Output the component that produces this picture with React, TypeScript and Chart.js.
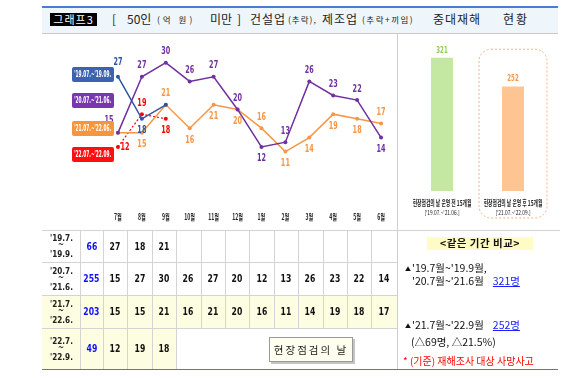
import React, { useEffect, useRef } from 'react';
import { Chart, registerables } from 'chart.js';

Chart.register(...registerables);

// ---------------- data ----------------
const months = ['7월', '8월', '9월', '10월', '11월', '12월', '1월', '2월', '3월', '4월', '5월', '6월'];
const seriesLabels = ["'19.07.~'19.09.", "'20.07.~'21.06.", "'21.07.~'22.06.", "'22.07.~'22.09."];
const s2019 = [27, 18, 21, null, null, null, null, null, null, null, null, null];
const s2020 = [15, 27, 30, 26, 27, 20, 12, 13, 26, 23, 22, 14];
const s2021 = [15, 15, 21, 16, 21, 20, 16, 11, 14, 19, 18, 17];
const s2022 = [12, 19, 18, null, null, null, null, null, null, null, null, null];
const rowLabels = [
  ["'19.7.", '~', "'19.9."],
  ["'20.7.", '~', "'21.6."],
  ["'21.7.", '~', "'22.6."],
  ["'22.7.", '~', "'22.9."],
];
const rowTotals = [66, 255, 203, 49];
const barCategories = [
  ['현장점검의 날 운영 전 15개월', "['19.07.~'21.06.]"],
  ['현장점검의 날 운영 후 15개월', "['21.07.~'22.09.]"],
];
const barValues = [321, 252];
const titleTag = '그래프3';
const buttonText = '현장점검의 날';
const compareTitle = '<같은 기간 비교>';
const compareLine1 = "'19.7월~'19.9월,";
const compareLine2 = "'20.7월~'21.6월";
const compareSum1 = '321명';
const compareLine3 = "'21.7월~'22.9월";
const compareSum2 = '252명';
const compareDiff = '(△69명, △21.5%)';
const footNote = '* (기준) 재해조사 대상 사망사고';

// ---------------- styles ----------------
const FN = "'Liberation Sans Narrow','DejaVu Sans Condensed','Noto Sans CJK KR',sans-serif";
const FK = "'Noto Sans CJK KR','Noto Sans',sans-serif";
const seriesColors = ['#2b559f', '#7030a0', '#f79646', '#ff0000'];
const legendColors = ['#3c63ad', '#7a35b0', '#f7953f', '#ff1010'];
const barColors = ['#c4e7a2', '#fec593'];
const barLabelColors = ['#8fcf4c', '#f79646'];
// label placement per point: a=above, A=higher above, b=below, l=upper-left, r=right, ''=none
const labelPos = [
  ['A', 'b', '', '', '', '', '', '', '', '', '', ''],
  ['l', 'a', 'a', 'a', 'a', 'a', 'b', 'a', 'a', 'a', 'a', 'b'],
  ['', 'b', 'a', 'b', 'b', 'b', 'a', 'b', 'b', 'b', 'b', 'a'],
  ['r', 'a', 'b', '', '', '', '', '', '', '', '', ''],
];

function condText(ctx: CanvasRenderingContext2D, text: string, x: number, y: number, font: string, color: string, sx: number) {
  ctx.save();
  ctx.font = font;
  ctx.fillStyle = color;
  ctx.textAlign = 'center';
  ctx.textBaseline = 'middle';
  ctx.translate(x, y);
  ctx.scale(sx, 1);
  ctx.fillText(text, 0, 0);
  ctx.restore();
}

const lineLabelPlugin = {
  id: 'lineLabels',
  afterDatasetsDraw(chart: any) {
    const ctx = chart.ctx;
    chart.data.datasets.forEach((ds: any, i: number) => {
      const si = ds.seriesIndex;
      const meta = chart.getDatasetMeta(i);
      meta.data.forEach((pt: any, j: number) => {
        const v = ds.data[j];
        const p = labelPos[si][j];
        if (v == null || !p) return;
        let x = pt.x;
        let y = pt.y;
        if (p === 'a') y -= 11;
        else if (p === 'A') y -= 14;
        else if (p === 'b') y += 12;
        else if (p === 'l') { x -= 9; y -= 12; }
        else if (p === 'r') { x += 7; y += 1; }
        condText(ctx, String(v), x, y, `bold 10px ${FN}`, seriesColors[si], 0.72);
      });
    });
    const xs = chart.scales.x;
    months.forEach((m, j) => {
      condText(ctx, m, xs.getPixelForValue(j), chart.chartArea.bottom + 14, `bold 8.5px ${FK}`, '#222', 0.6);
    });
  },
};

const barDecoPlugin = {
  id: 'barDeco',
  beforeDatasetsDraw(chart: any) {
    const ctx = chart.ctx;
    const ca = chart.chartArea;
    const cx = chart.scales.x.getPixelForValue(1);
    ctx.save();
    ctx.strokeStyle = '#f4b183';
    ctx.lineWidth = 1;
    ctx.setLineDash([2, 2]);
    ctx.beginPath();
    ctx.roundRect(cx - 34, ca.top + 3.5, 68, ca.bottom + 27 - ca.top - 3.5, 12);
    ctx.stroke();
    ctx.restore();
  },
  afterDatasetsDraw(chart: any) {
    const ctx = chart.ctx;
    const ca = chart.chartArea;
    const meta = chart.getDatasetMeta(0);
    meta.data.forEach((bar: any, j: number) => {
      condText(ctx, String(barValues[j]), bar.x, bar.y - 7, `bold 8px ${FN}`, barLabelColors[j], 0.75);
      const [l1, l2] = barCategories[j];
      condText(ctx, l1, bar.x, ca.bottom + 12, `bold 8px ${FK}`, '#222', 0.6);
      condText(ctx, l2, bar.x, ca.bottom + 22, `6px ${FK}`, '#222', 0.8);
    });
  },
};

function LineChart() {
  const ref = useRef<HTMLCanvasElement>(null);
  useEffect(() => {
    const mk = (data: any[], i: number, dash: number[] = []) => ({
      label: seriesLabels[i],
      seriesIndex: i,
      data,
      borderColor: seriesColors[i],
      backgroundColor: seriesColors[i],
      borderWidth: i === 3 ? 1.2 : 1.5,
      borderDash: dash,
      pointRadius: 2,
      pointBorderWidth: 0,
      spanGaps: false,
      tension: 0,
    });
    const chart = new Chart(ref.current!, {
      type: 'line',
      data: {
        labels: months,
        datasets: [mk(s2019, 0), mk(s2020, 1), mk(s2021, 2), mk(s2022, 3, [2, 2])] as any,
      },
      options: {
        animation: false,
        responsive: false,
        maintainAspectRatio: false,
        layout: { padding: { left: 64, right: 3, top: 11, bottom: 0 } },
        plugins: { legend: { display: false }, tooltip: { enabled: false } },
        scales: {
          x: {
            offset: true,
            grid: { display: false, drawTicks: false },
            border: { display: false },
            ticks: { display: false },
            afterFit: (a: any) => { a.height = 27; },
          },
          y: { display: false, min: 0, max: 34 },
        },
      } as any,
      plugins: [lineLabelPlugin],
    });
    return () => chart.destroy();
  }, []);
  return <canvas ref={ref} width={355} height={197} style={{ position: 'absolute', left: 42, top: 33, width: 355, height: 197 }} />;
}

function BarChart() {
  const ref = useRef<HTMLCanvasElement>(null);
  useEffect(() => {
    const chart = new Chart(ref.current!, {
      type: 'bar',
      data: {
        labels: barCategories.map((c) => c[0]),
        datasets: [{ data: barValues, backgroundColor: barColors, categoryPercentage: 1, barPercentage: 0.31 }],
      },
      options: {
        animation: false,
        responsive: false,
        maintainAspectRatio: false,
        layout: { padding: { left: 9.5, right: 9.5, top: 12.7, bottom: 0 } },
        plugins: { legend: { display: false }, tooltip: { enabled: false } },
        scales: {
          x: {
            grid: { display: false, drawTicks: false },
            border: { display: false },
            ticks: { display: false },
            afterFit: (a: any) => { a.height = 39; },
          },
          y: { display: false, min: 0, max: 350 },
        },
      } as any,
      plugins: [barDecoPlugin],
    });
    return () => chart.destroy();
  }, []);
  return <canvas ref={ref} width={161} height={197} style={{ position: 'absolute', left: 397, top: 33, width: 161, height: 197 }} />;
}

const abs = (l: number, t: number, w: number, h: number, extra: any = {}) => ({ position: 'absolute' as const, left: l, top: t, width: w, height: h, ...extra });

function Cond({ children, sx }: { children: any; sx: number }) {
  return <span style={{ display: 'inline-block', transform: `scaleX(${sx})`, transformOrigin: 'center', whiteSpace: 'nowrap', flexShrink: 0 }}>{children}</span>;
}

const COL_W = 24.4;
const colX = (k: number) => 103 + k * COL_W;
const rowTops = [230, 262, 295, 328, 369];
const GRID = '#d4d4d4';
const centerFlex = { display: 'flex', alignItems: 'center', justifyContent: 'center' };

function Table() {
  const rows = [s2019, s2020, s2021, s2022];
  const els: any[] = [];
  rows.forEach((vals, r) => {
    const top = rowTops[r];
    const h = rowTops[r + 1] - top;
    const partial = r === 3;
    const n = partial ? vals.filter((v) => v != null).length : 12;
    if (r === 2) els.push(<div key={`bg${r}`} style={abs(42, top, 355, h, { background: '#fdfde2' })} />);
    if (r === 3) els.push(<div key={`bg${r}`} style={abs(42, top, colX(n) - 42, h, { background: '#fdfde2' })} />);
    const vx = [80, 103];
    for (let k = 1; k <= (partial ? n : 11); k++) vx.push(colX(k));
    vx.forEach((x, i) => els.push(<div key={`v${r}-${i}`} style={abs(Math.round(x), top, 1, h, { background: GRID })} />));
    els.push(
      <div key={`l${r}`} style={abs(42, top, 38, h, { display: 'flex', flexDirection: 'column', alignItems: 'center', justifyContent: 'center', fontFamily: FN, fontWeight: 'bold', fontSize: 9.5, color: '#222' })}>
        <div style={{ height: 9, lineHeight: '9px' }}><Cond sx={0.85}>{rowLabels[r][0]}</Cond></div>
        <div style={{ height: 6, lineHeight: '6px', fontSize: 8 }}>{rowLabels[r][1]}</div>
        <div style={{ height: 11, lineHeight: '11px' }}><Cond sx={0.85}>{rowLabels[r][2]}</Cond></div>
      </div>
    );
    els.push(
      <div key={`t${r}`} style={abs(80, top, 23, h, { ...centerFlex, fontFamily: FN, fontWeight: 'bold', fontSize: 11, color: '#1010ff' })}>
        <Cond sx={0.78}>{rowTotals[r]}</Cond>
      </div>
    );
    vals.forEach((v, k) => {
      if (v == null) return;
      els.push(
        <div key={`c${r}-${k}`} style={abs(colX(k), top, COL_W, h, { ...centerFlex, fontFamily: FN, fontWeight: 'bold', fontSize: 11, color: '#111' })}>
          <Cond sx={0.78}>{v}</Cond>
        </div>
      );
    });
  });
  [262, 295, 328].forEach((y) => els.push(<div key={`h${y}`} style={abs(42, y, 355, 1, { background: GRID })} />));
  els.push(<div key="htop" style={abs(42, 230, 518, 1, { background: GRID })} />);
  els.push(<div key="vpanel" style={abs(397, 33, 1, 336, { background: '#cfcfcf' })} />);
  els.push(<div key="hbot" style={abs(42, 368.5, 516, 1.5, { background: '#4a78d0' })} />);
  return <>{els}</>;
}

function Header() {
  const big = { fontFamily: FK, fontSize: 12, color: '#222', lineHeight: '16px', whiteSpace: 'nowrap' as const };
  const small = { ...big, fontSize: 8.5 };
  const parts: [string, number, boolean, number][] = [
    ['[', 112, true, 0],
    ['50인', 127, true, 0],
    ['(억 원)', 157, false, 3],
    ['미만', 210, true, 0],
    [']', 237, true, 0],
    ['건설업', 250, true, 1],
    ['(추락),', 288, false, 1],
    ['제조업', 322, true, 1],
    ['(추락+끼임)', 362, false, 1.5],
    ['중대재해', 433, true, 1],
    ['현황', 503, true, 2],
  ];
  return (
    <>
      <div style={abs(42, 6, 516, 1.5, { background: '#4a7bd0' })} />
      <div style={abs(42, 7.5, 516, 25.5, { background: '#eef6fc' })} />
      <div style={abs(42, 33, 516, 1, { background: '#c8c8c8' })} />
      <div style={abs(50, 13, 47, 13, { background: '#000', color: '#fff', fontFamily: FK, fontSize: 11, lineHeight: '13px', textAlign: 'center', letterSpacing: 1 })}>{titleTag}</div>
      {parts.map(([t, x, b, ls], i) => (
        <div key={i} style={{ position: 'absolute', left: x, top: 11, letterSpacing: ls, ...(b ? big : small) }}>{t}</div>
      ))}
    </>
  );
}

function Legend() {
  const tops = [67, 93, 121, 147];
  return (
    <>
      {seriesLabels.map((s, i) => (
        <div key={i} style={abs(72, tops[i], 42, 15, { ...centerFlex, background: legendColors[i], borderRadius: 2, color: '#fff', fontFamily: FN, fontWeight: 'bold', fontSize: 8, lineHeight: '15px' })}>
          <Cond sx={0.6}>{s}</Cond>
        </div>
      ))}
    </>
  );
}

function Panel() {
  const txt = { fontFamily: FK, fontSize: 10.5, color: '#111', lineHeight: '14px', whiteSpace: 'nowrap' as const, position: 'absolute' as const };
  const tri = <span style={{ fontSize: 6, verticalAlign: 'middle', marginRight: 1 }}>▲</span>;
  const link = { color: '#2020ff', textDecoration: 'underline' };
  return (
    <>
      <div style={abs(427, 237, 106, 13, { background: '#fffbc4' })} />
      <div style={{ ...txt, left: 427, width: 106, top: 236, textAlign: 'center', fontWeight: 'bold', letterSpacing: 0.5 }}>{compareTitle}</div>
      <div style={{ ...txt, left: 405, top: 261 }}>{tri}{compareLine1}</div>
      <div style={{ ...txt, left: 412, top: 274 }}>{compareLine2}<span style={{ ...link, marginLeft: 9 }}>{compareSum1}</span></div>
      <div style={{ ...txt, left: 405, top: 318 }}>{tri}{compareLine3}<span style={{ ...link, marginLeft: 9 }}>{compareSum2}</span></div>
      <div style={{ ...txt, left: 411, top: 335 }}>{compareDiff}</div>
      <div style={{ ...txt, left: 403, top: 354, color: '#ff0000', fontSize: 10 }}>{footNote}</div>
      <div style={abs(269, 337, 84, 25, { boxSizing: 'border-box', background: '#fffff0', border: '1px solid #9a9a9a', boxShadow: '2px 2px 0 #c4c4c4', fontFamily: FK, fontSize: 10.5, letterSpacing: 2, lineHeight: '23px', textAlign: 'center', color: '#222', whiteSpace: 'nowrap' })}>{buttonText}</div>
    </>
  );
}

export default function App() {
  return (
    <div style={{ position: 'absolute', left: 0, top: 0, width: 580, height: 378, background: '#fff', overflow: 'hidden' }}>
      <Header />
      <LineChart />
      <BarChart />
      <Legend />
      <Table />
      <Panel />
    </div>
  );
}
